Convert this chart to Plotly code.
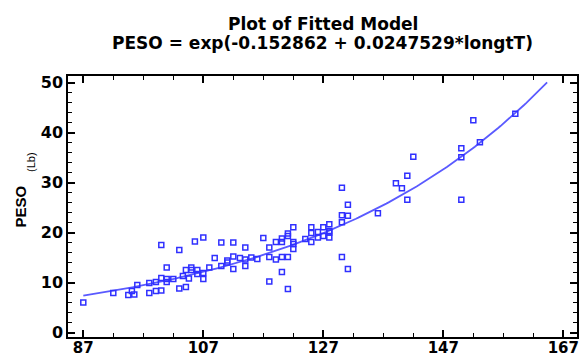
import numpy as np
import plotly.graph_objects as go

# Observed data (longtT, PESO)
longt = [87.0, 92.0, 94.5, 95.1, 95.5, 96.0, 98.0, 98.0, 99.1, 99.1, 100.0, 100.0, 100.0,
         100.9, 100.9, 100.9, 102.0, 103.0, 103.0, 103.6, 104.1, 104.1, 104.6, 105.0, 105.0,
         105.6, 106.0, 106.0, 107.0, 107.0, 107.0, 108.0, 108.9, 110.0, 110.0, 111.0, 111.0,
         112.0, 112.0, 112.0, 113.1, 114.0, 114.0, 114.0, 115.0, 116.0, 117.0, 118.0, 118.0,
         118.0, 119.1, 119.1, 120.1, 120.1, 120.1, 120.1, 121.1, 121.1, 121.1, 121.1, 122.0,
         122.0, 122.0, 122.0, 124.0, 125.0, 125.0, 125.0, 126.1, 126.1, 127.0, 127.0, 128.0,
         128.0, 128.0, 128.0, 130.1, 130.1, 130.1, 130.1, 131.1, 131.1, 131.1, 136.1, 139.1,
         140.1, 141.0, 141.0, 142.0, 150.0, 150.0, 150.0, 152.0, 153.1, 159.0]
peso = [6.0, 7.9, 7.5, 8.3, 7.6, 9.5, 7.9, 9.9, 8.3, 10.1, 8.4, 17.5, 10.9,
        13.0, 10.7, 10.1, 10.7, 16.5, 8.8, 11.3, 12.5, 9.1, 10.8, 13.0, 12.5,
        18.2, 12.5, 11.7, 19.0, 11.9, 10.7, 13.0, 14.9, 18.0, 13.3, 14.4, 14.0,
        18.0, 15.2, 12.7, 14.9, 17.0, 14.6, 13.3, 15.0, 14.7, 18.9, 17.0, 15.1,
        10.2, 18.1, 14.6, 18.8, 18.1, 15.1, 12.1, 19.8, 19.3, 15.1, 8.7, 21.1,
        18.1, 17.7, 16.7, 18.7, 21.1, 19.9, 18.1, 20.1, 19.0, 21.1, 19.3, 21.7,
        20.3, 20.0, 19.0, 29.0, 23.5, 22.1, 15.1, 25.6, 23.4, 12.7, 23.9, 29.9,
        28.9, 31.4, 26.6, 35.2, 36.9, 35.1, 26.6, 42.5, 38.1, 43.8]

# Fitted model coefficients (from the title)
b0 = -0.152862
b1 = 0.0247529
fit_x_start, fit_x_end = 87.0, 164.3
x_ticks = [87, 107, 127, 147, 167]
y_ticks = [0, 10, 20, 30, 40, 50]

fx = np.linspace(fit_x_start, fit_x_end, 200)
fy = np.exp(b0 + b1 * fx)

fig = go.Figure()
fig.add_trace(go.Scatter(x=fx, y=fy, mode="lines",
                         line=dict(color="#5a5aff", width=1.8), showlegend=False))
fig.add_trace(go.Scatter(x=longt, y=peso, mode="markers",
                         marker=dict(symbol="square-open", size=5, color="#3030ff",
                                     line=dict(width=1.5, color="#3030ff")),
                         showlegend=False))

L, R, T, B = 68, 6, 76, 22
PH = 359 - T - B
PW = 583 - L - R


def px_x(px):
    return (px - L) / PW


def px_y(py):
    return (359 - B - py) / PH


tickfont = dict(family="DejaVu Sans", size=15, color="black", weight="bold")
fig.update_layout(
    width=583, height=359,
    margin=dict(l=L, r=R, t=T, b=B, autoexpand=False),
    plot_bgcolor="white", paper_bgcolor="white",
    xaxis=dict(range=[84.45, 169.28], tickmode="array", tickvals=x_ticks,
               ticks="inside", ticklen=7, tickwidth=1.5, tickcolor="black",
               showline=True, linewidth=1.5, linecolor="black", mirror="allticks",
               showgrid=False, zeroline=False, tickfont=tickfont, automargin=False,
               ticklabelstandoff=-4,
               minor=dict(tick0=87, dtick=5, ticks="inside", ticklen=4,
                          tickwidth=1, tickcolor="black", showgrid=False)),
    yaxis=dict(range=[-0.9, 51.36], tickmode="array", tickvals=y_ticks,
               ticks="inside", ticklen=7, tickwidth=1.5, tickcolor="black",
               showline=True, linewidth=1.5, linecolor="black", mirror="allticks",
               showgrid=False, zeroline=False,
               tickfont=dict(family="DejaVu Sans", size=16, color="black", weight="bold"),
               automargin=False,
               minor=dict(tick0=0, dtick=2, ticks="inside", ticklen=4,
                          tickwidth=1, tickcolor="black", showgrid=False)),
    annotations=[
        dict(text="Plot of Fitted Model", xref="paper", yref="paper",
             x=0.5, y=px_y(24), xanchor="center", yanchor="middle", showarrow=False,
             font=dict(family="DejaVu Sans", size=17, color="black", weight="bold")),
        dict(text="PESO = exp(-0.152862 + 0.0247529*longtT)", xref="paper", yref="paper",
             x=0.5, y=px_y(42.5), xanchor="center", yanchor="middle", showarrow=False,
             font=dict(family="DejaVu Sans", size=17, color="black", weight="bold")),
        dict(text="PESO", xref="paper", yref="paper", x=px_x(20), y=px_y(206.5),
             xanchor="center", yanchor="middle", showarrow=False, textangle=-90,
             font=dict(family="Liberation Sans", size=15, color="black", weight="bold")),
        dict(text="(Lb)", xref="paper", yref="paper", x=px_x(31), y=px_y(162),
             xanchor="center", yanchor="middle", showarrow=False, textangle=-90,
             font=dict(family="Liberation Sans", size=11, color="black")),
    ],
)

fig.write_html("out.html")
